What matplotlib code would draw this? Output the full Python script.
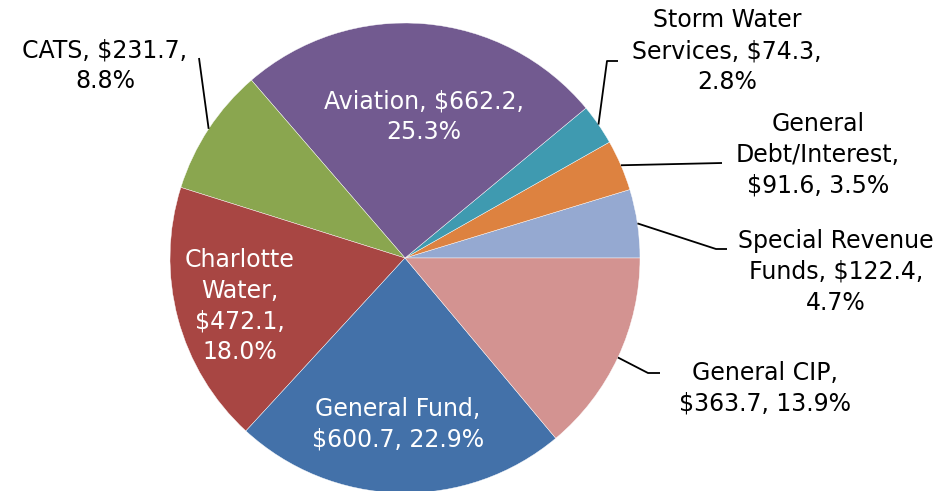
import numpy as np
import matplotlib.pyplot as plt

# slices in counter-clockwise order starting at 3 o'clock
names = ["Special Revenue Funds", "General Debt/Interest", "Storm Water Services",
         "Aviation", "CATS", "Charlotte Water", "General Fund", "General CIP"]
amounts = [122.4, 91.6, 74.3, 662.2, 231.7, 472.1, 600.7, 363.7]
shares = [4.7, 3.5, 2.8, 25.3, 8.8, 18.0, 22.9, 13.9]
labels = [
    "Special Revenue\nFunds, $122.4,\n4.7%",
    "General\nDebt/Interest,\n$91.6, 3.5%",
    "Storm Water\nServices, $74.3,\n2.8%",
    "Aviation, $662.2,\n25.3%",
    "CATS, $231.7,\n8.8%",
    "Charlotte\nWater,\n$472.1,\n18.0%",
    "General Fund,\n$600.7, 22.9%",
    "General CIP,\n$363.7, 13.9%",
]
colors = ["#95A9D1", "#DD8240", "#3F9AB0", "#725A90",
          "#8AA64F", "#A84643", "#4371A9", "#D39391"]

W, H = 944, 491
cx, cy, r = 405, H - 258, 235

fig = plt.figure(figsize=(9.44, 4.91), dpi=100)
ax = fig.add_axes([0, 0, 1, 1])

wedges, _ = ax.pie(shares, colors=colors, startangle=0, counterclock=True,
                   center=(cx, cy), radius=r, frame=True,
                   wedgeprops=dict(edgecolor="white", linewidth=0.3))
ax.set_xlim(0, W)
ax.set_ylim(0, H)
ax.set_aspect("equal")
ax.axis("off")

fs = 17
ls = 1.36
# inside labels (white), positions in pixel coords from top
inside = {3: (424, 117), 5: (240, 306), 6: (398, 424)}
for i, (x, y) in inside.items():
    ax.text(x, H - y, labels[i], color="white", fontsize=fs, ha="center",
            va="center", linespacing=ls)

# outside labels: text centre, leader elbow points (pixel coords from top)
outside = {
    0: ((836, 272), [(716, 249), (727, 249)]),
    1: ((818, 155), [(722, 163)]),
    2: ((727, 51), [(607, 61), (618, 61)]),
    4: ((105, 66), [(199, 58)]),
    7: ((765, 388), [(648, 373), (660, 373)]),
}
for i, ((tx, ty), pts) in outside.items():
    w = wedges[i]
    mid = np.deg2rad((w.theta1 + w.theta2) / 2)
    sx, sy = cx + r * np.cos(mid), cy + r * np.sin(mid)
    xs = [sx] + [p[0] for p in pts]
    ys = [sy] + [H - p[1] for p in pts]
    ax.plot(xs, ys, color="black", linewidth=1.3, solid_capstyle="butt")
    ax.text(tx, H - ty, labels[i], color="black", fontsize=fs, ha="center",
            va="center", linespacing=ls)

fig.savefig("out.png", dpi=100)
